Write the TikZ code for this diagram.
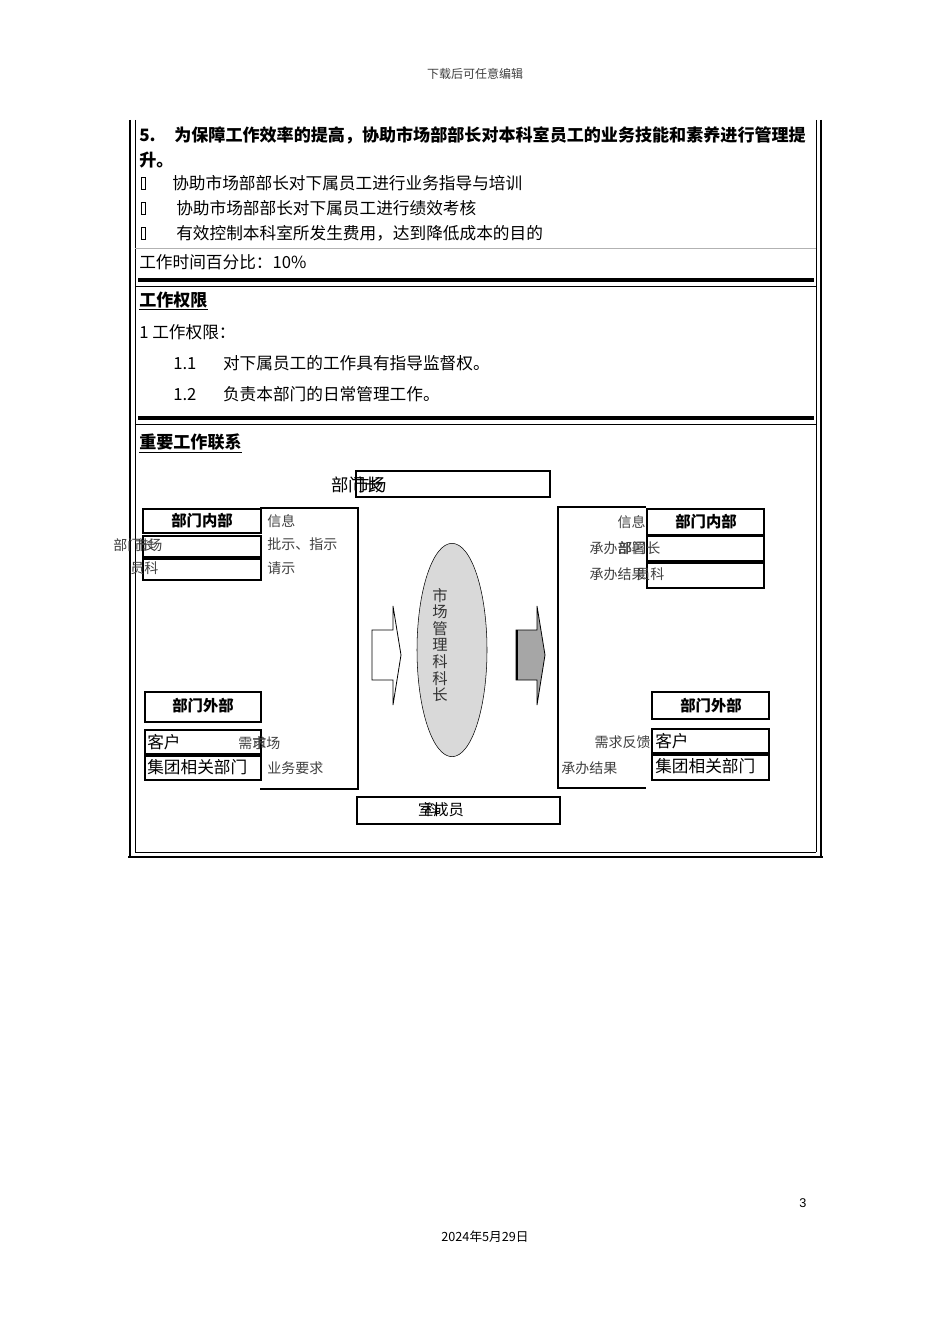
\documentclass[tikz,border=0pt]{standalone}
\usepackage{fontspec}
\setmainfont{Liberation Sans}
\newfontfamily\cjk{Noto Sans CJK SC}
\usetikzlibrary{shapes.geometric}
\tikzset{
  txt/.style={font=\cjk\fontsize{12.5pt}{14pt}\selectfont, inner sep=0pt, anchor=west},
  btxt/.style={font=\cjk\bfseries\fontsize{12.8pt}{14pt}\selectfont, inner sep=0pt, anchor=west},
  lbl/.style={font=\cjk\fontsize{10.5pt}{12pt}\selectfont, inner sep=0pt, text=black!75},
  bx/.style={draw, line width=0.9pt},
  hd/.style={font=\cjk\bfseries\fontsize{11.5pt}{13pt}\selectfont},
}
\begin{document}
\begin{tikzpicture}[x=0.75pt,y=-0.75pt]
\useasboundingbox (0,0) rectangle (950,1344);
\fill[white] (0,0) rectangle (950,1344);
\node[lbl,font=\cjk\fontsize{9pt}{10pt}\selectfont] (hdr) at (475,74) {下载后可任意编辑};
% frame
\draw[line width=2.2pt] (130,120) -- (130,857);
\draw[line width=0.6pt] (135,120) -- (135,852);
\draw[line width=2.2pt] (821,120) -- (821,857);
\draw[line width=0.6pt] (816,120) -- (816,852);
\draw[line width=0.6pt] (135,852) -- (816,852);
\draw[line width=2.2pt] (128,857) -- (823,857);
\draw[black!30,line width=0.6pt] (135,248) -- (816,248);
\draw[line width=3.5pt] (138,280) -- (814,280);
\draw[line width=0.6pt] (135,286) -- (816,286);
\draw[line width=3.5pt] (138,418) -- (814,418);
\draw[line width=0.6pt] (135,424) -- (816,424);
% texts
\node[btxt] (t1) at (139,135) {5.\hspace{14pt}为保障工作效率的提高，协助市场部部长对本科室员工的业务技能和素养进行管理提};
\node[btxt] (t2) at (139,160) {升。};
\foreach \y/\x/\s [count=\i] in {183/172/协助市场部部长对下属员工进行业务指导与培训,208/176/协助市场部部长对下属员工进行绩效考核,233/176/有效控制本科室所发生费用，达到降低成本的目的}{
  \draw[line width=0.4pt] (141,\y-6) rectangle (145,\y+6);
  \node[txt] (b\i) at (\x,\y) {\s};
}
\node[txt] (t3) at (139,262) {工作时间百分比：10\%};
\node[btxt] (t4) at (139,301) {\underline{工作权限}};
\node[txt] (t5) at (139,332) {1 工作权限：};
\node[txt] (t6) at (173,363) {1.1\hspace{20pt}对下属员工的工作具有指导监督权。};
\node[txt] (t7) at (173,394) {1.2\hspace{20pt}负责本部门的日常管理工作。};
\node[btxt] (t8) at (139,443) {\underline{重要工作联系}};
% diagram
\draw[bx] (356,471) rectangle (550,497);
\node[txt,font=\cjk\fontsize{13pt}{14pt}\selectfont] (top1) at (331,485) {部门长};
\node[txt,font=\cjk\fontsize{13pt}{14pt}\selectfont] (top2) at (352,485) {市场};
% left bracket
\draw[line width=0.8pt] (260,508) -- (358,508) -- (358,789) -- (260,789);
\draw[bx] (143,509) rectangle (261,533);
\node[hd] (li) at (202,521) {部门内部};
\draw[bx] (143,536) rectangle (261,557);
\draw[bx] (143,559) rectangle (261,580);
\node[lbl,anchor=west] (l1a) at (113,545) {部门长};
\node[lbl,anchor=west] (l1b) at (134,545) {市场};
\node[lbl,anchor=west] (l2) at (130,568) {员科};
\node[lbl,anchor=west] (x1) at (267,521) {信息};
\node[lbl,anchor=west] (x2) at (267,544) {批示、指示};
\node[lbl,anchor=west] (x3) at (267,568) {请示};
\draw[bx] (145,692) rectangle (261,722);
\node[hd] (lo) at (203,706) {部门外部};
\draw[bx] (145,730) rectangle (261,754);
\draw[bx] (145,756) rectangle (261,780);
\node[txt] (c1) at (147,742) {客户};
\node[txt] (c2) at (147,767) {集团相关部门};
\node[lbl,anchor=west] (y1a) at (238,743) {需求};
\node[lbl,anchor=west] (y1b) at (252,743) {市场};
\node[lbl,anchor=west] (y2) at (267,768) {业务要求};
% ellipse
\node[ellipse,draw,fill=black!15,minimum width=52.5pt,minimum height=160pt,inner sep=0pt] (el) at (452,650) {};
\node[lbl,align=center,text=black!80,font=\cjk\fontsize{11.5pt}{12.4pt}\selectfont] (elt) at (440,645) {市\\场\\管\\理\\科\\科\\长};
% arrows
\draw[line width=0.6pt] (372,630) -- (393,630) -- (393,606) -- (401,655) -- (393,705) -- (393,680) -- (372,680) -- cycle;
\draw[line width=0.6pt,fill=black!35] (516,630) -- (537,630) -- (537,606) -- (545,655) -- (537,705) -- (537,680) -- (516,680) -- cycle;
\draw[line width=2pt] (517,630) -- (517,680);
% right bracket
\draw[line width=0.8pt] (646,507) -- (558,507) -- (558,788) -- (646,788);
\draw[bx] (647,509) rectangle (764,535);
\node[hd] (ri) at (706,522) {部门内部};
\draw[bx] (647,536) rectangle (764,561);
\draw[bx] (647,563) rectangle (764,588);
\node[lbl,anchor=east] (r1) at (646,522) {信息};
\node[lbl,anchor=east] (r2) at (646,548) {承办部署};
\node[lbl,anchor=east] (r3) at (646,574) {承办结果};
\node[lbl,anchor=west] (r2b) at (618,548) {部门长};
\node[lbl,anchor=west] (r3b) at (636,574) {员科};
\draw[bx] (652,692) rectangle (769,719);
\node[hd] (ro) at (711,706) {部门外部};
\draw[bx] (652,729) rectangle (769,753);
\draw[bx] (652,755) rectangle (769,780);
\node[txt] (d1) at (655,741) {客户};
\node[txt] (d2) at (655,766) {集团相关部门};
\node[lbl,anchor=east] (z1) at (651,742) {需求反馈};
\node[lbl,anchor=west] (z2) at (561,768) {承办结果};
% bottom box
\draw[bx] (357,797) rectangle (560,824);
\node[lbl,text=black,font=\cjk\fontsize{11.5pt}{12pt}\selectfont] (bb1) at (441,810) {室成员};
\node[lbl,text=black,font=\cjk\fontsize{11.5pt}{12pt}\selectfont] (bb2) at (432,810) {科};
% footer
\node[lbl,text=black,font=\fontsize{9.5pt}{11pt}\selectfont] (pg) at (803,1203) {3};
\node[lbl,text=black,font=\cjk\fontsize{9.5pt}{11pt}\selectfont] (dt) at (485,1237) {2024年5月29日};
\end{tikzpicture}
\end{document}
